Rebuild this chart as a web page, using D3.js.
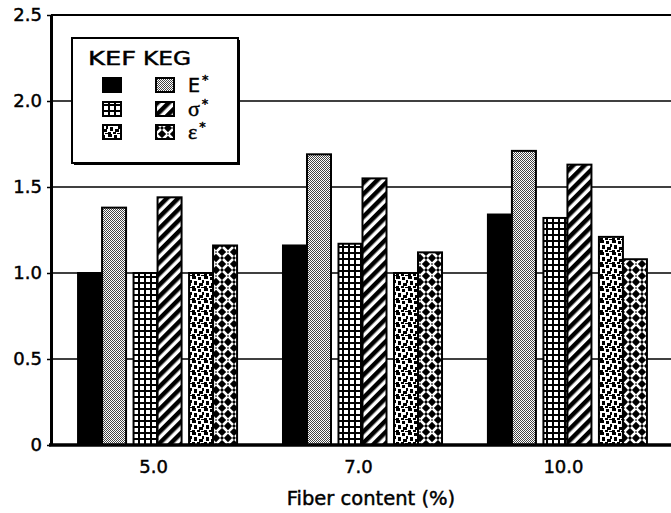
<!DOCTYPE html>
<html>
<head>
<meta charset="utf-8">
<script src="https://cdn.jsdelivr.net/npm/d3@7"></script>
<style>
  body { margin: 0; background: #fff; }
  text { font-family: "DejaVu Sans", "Liberation Sans", sans-serif; fill: #000; stroke: #000; stroke-width: 0.45px; }
</style>
</head>
<body>
<svg id="chart"></svg>
<script>
// Categories and tick labels
var groups = ["5.0", "7.0", "10.0"];
var measures = ["E*", "σ*", "ε*"];
var materials = ["KEF", "KEG"];
var yTicks = [0, 0.5, 1.0, 1.5, 2.0, 2.5];

// Values (one per fiber content)
var kefE = [1.00, 1.16, 1.34];
var kegE = [1.38, 1.69, 1.71];
var kefSigma = [1.00, 1.17, 1.32];
var kegSigma = [1.44, 1.55, 1.63];
var kefEps = [1.00, 1.00, 1.21];
var kegEps = [1.16, 1.12, 1.08];

// series lookup: [measure][material]
var series = [[kefE, kegE], [kefSigma, kegSigma], [kefEps, kegEps]];

// Set up the SVG dimensions
var svgWidth = 671;
var svgHeight = 513;
var plotLeft = 51, plotRight = 674, plotTop = 15, plotBottom = 445;

var svg = d3.select("#chart")
  .attr("width", svgWidth)
  .attr("height", svgHeight);

// Patterns for the bars
var defs = svg.append("defs");

function addPattern(id, w, h, transform) {
  var p = defs.append("pattern")
    .attr("id", id)
    .attr("patternUnits", "userSpaceOnUse")
    .attr("width", w)
    .attr("height", h);
  if (transform) p.attr("patternTransform", transform);
  return p;
}

// KEF E*: solid black
addPattern("p00", 4, 4).append("rect").attr("width", 4).attr("height", 4).attr("fill", "#000");

// KEG E*: fine stipple (checker)
var st = addPattern("p01", 2, 2);
st.append("rect").attr("width", 2).attr("height", 2).attr("fill", "#fff");
st.append("rect").attr("width", 1).attr("height", 1).attr("fill", "#444");
st.append("rect").attr("x", 1).attr("y", 1).attr("width", 1).attr("height", 1).attr("fill", "#444");

// KEF sigma*: grid of white squares
var gr = addPattern("p10", 6, 6);
gr.append("rect").attr("width", 6).attr("height", 6).attr("fill", "#000");
gr.append("rect").attr("x", 2).attr("y", 2).attr("width", 4).attr("height", 4).attr("fill", "#fff");

// KEG sigma*: diagonal stripes
var dg = addPattern("p11", 8, 8, "rotate(45)");
dg.append("rect").attr("width", 8).attr("height", 8).attr("fill", "#fff");
dg.append("rect").attr("width", 4.5).attr("height", 8).attr("fill", "#000");

// KEF eps*: irregular dots
var dt = addPattern("p20", 12, 12);
dt.append("rect").attr("width", 12).attr("height", 12).attr("fill", "#fff");
[[0, 0, 4, 3], [6, 1, 3, 3], [10, 4, 2, 3], [2, 5, 3, 4], [7, 7, 4, 3], [0, 10, 3, 2], [5, 10, 3, 2], [9, 11, 3, 1]]
  .forEach(function (r) {
    dt.append("rect").attr("x", r[0]).attr("y", r[1]).attr("width", r[2]).attr("height", r[3]).attr("fill", "#000");
  });

// KEG eps*: basket weave
var wv = addPattern("p21", 12, 12);
wv.append("rect").attr("width", 12).attr("height", 12).attr("fill", "#000");
wv.append("path")
  .attr("d", "M0.5,0.5L5,5M7,5L11.5,0.5M0.5,11.5L5,7M7,7L11.5,11.5")
  .attr("stroke", "#fff")
  .attr("stroke-width", 2.6)
  .attr("fill", "none");

// Scales
var xScale = d3.scaleBand()
  .domain(groups)
  .range([plotLeft, plotRight])
  .paddingInner(0.224)
  .paddingOuter(0.132);

var mScale = d3.scaleBand()
  .domain(measures)
  .range([0, xScale.bandwidth()])
  .paddingInner(0.135);

var matScale = d3.scaleBand()
  .domain(materials)
  .range([0, mScale.bandwidth()]);

var yScale = d3.scaleLinear()
  .domain([0, 2.5])
  .range([plotBottom, plotTop]);

// Gridlines
svg.append("g")
  .selectAll("line")
  .data(yTicks.filter(function (d) { return d > 0; }))
  .enter()
  .append("line")
  .attr("x1", plotLeft)
  .attr("x2", svgWidth)
  .attr("y1", function (d) { return yScale(d); })
  .attr("y2", function (d) { return yScale(d); })
  .attr("stroke", "#000")
  .attr("stroke-width", function (d) { return d === 2.5 ? 2 : 1.5; });

// Build bar rows
var rows = [];
groups.forEach(function (g, gi) {
  measures.forEach(function (m, mi) {
    materials.forEach(function (mat, ki) {
      rows.push({ group: g, measure: m, material: mat, mi: mi, ki: ki, value: series[mi][ki][gi] });
    });
  });
});

// Create the bars
svg.append("g")
  .selectAll(".bar")
  .data(rows)
  .enter()
  .append("rect")
  .attr("class", "bar")
  .attr("x", function (d) { return xScale(d.group) + mScale(d.measure) + matScale(d.material); })
  .attr("y", function (d) { return yScale(d.value); })
  .attr("width", matScale.bandwidth())
  .attr("height", function (d) { return yScale(0) - yScale(d.value); })
  .attr("fill", function (d) { return "url(#p" + d.mi + d.ki + ")"; })
  .attr("stroke", "#000")
  .attr("stroke-width", 2);

// Y axis
var yAxis = svg.append("g")
  .attr("transform", "translate(" + plotLeft + ",0)")
  .call(d3.axisLeft(yScale)
    .tickValues(yTicks)
    .tickSize(4)
    .tickSizeOuter(0)
    .tickPadding(5)
    .tickFormat(function (d) { return d === 0 ? "0" : d3.format(".1f")(d); }));
yAxis.select(".domain").attr("stroke-width", 3);
yAxis.selectAll(".tick line").attr("stroke-width", 1.5);
yAxis.selectAll("text")
  .style("font-size", "18px")
  .style("font-family", "DejaVu Sans")
  .attr("stroke", "#000")
  .attr("stroke-width", 0.45);

// Baseline
svg.append("line")
  .attr("x1", plotLeft - 2)
  .attr("x2", svgWidth)
  .attr("y1", plotBottom)
  .attr("y2", plotBottom)
  .attr("stroke", "#000")
  .attr("stroke-width", 3.5);

// X labels
svg.append("g")
  .selectAll("text")
  .data(groups)
  .enter()
  .append("text")
  .attr("x", function (d) { return xScale(d) + xScale.bandwidth() / 2 - 4; })
  .attr("y", 473)
  .attr("text-anchor", "middle")
  .style("font-size", "18px")
  .text(function (d) { return d; });

svg.append("text")
  .attr("x", 371)
  .attr("y", 505)
  .attr("text-anchor", "middle")
  .style("font-size", "19.5px")
  .text("Fiber content (%)");

// Legend
var legend = svg.append("g").attr("transform", "translate(72,38)");
legend.append("rect").attr("x", 2).attr("y", 2).attr("width", 166).attr("height", 125).attr("fill", "#000");
legend.append("rect").attr("width", 166).attr("height", 125).attr("fill", "#fff").attr("stroke", "#000").attr("stroke-width", 2);

var headerX = [16, 71];
legend.selectAll(".lh")
  .data(materials)
  .enter()
  .append("text")
  .attr("class", "lh")
  .attr("x", function (d, i) { return headerX[i]; })
  .attr("y", 27)
  .attr("textLength", 48)
  .attr("lengthAdjust", "spacingAndGlyphs")
  .style("font-size", "19px")
  .text(function (d) { return d; });

var swatchX = [31, 84];
var rowY = [40, 64, 87];
measures.forEach(function (m, mi) {
  materials.forEach(function (mat, ki) {
    legend.append("rect")
      .attr("x", swatchX[ki])
      .attr("y", rowY[mi])
      .attr("width", 18)
      .attr("height", 14)
      .attr("fill", "url(#p" + mi + ki + ")")
      .attr("stroke", "#000")
      .attr("stroke-width", 2);
  });
  var t = legend.append("text")
    .attr("x", 116)
    .attr("y", rowY[mi] + 14)
    .style("font-size", mi === 0 ? "19px" : "22px")
    .style("font-family", mi === 0 ? "DejaVu Sans" : "Liberation Serif");
  t.append("tspan").text(m.slice(0, -1));
  t.append("tspan").attr("dy", -8).attr("dx", 2).style("font-size", "13px").style("font-family", "DejaVu Sans").text("*");
});
</script>
</body>
</html>
